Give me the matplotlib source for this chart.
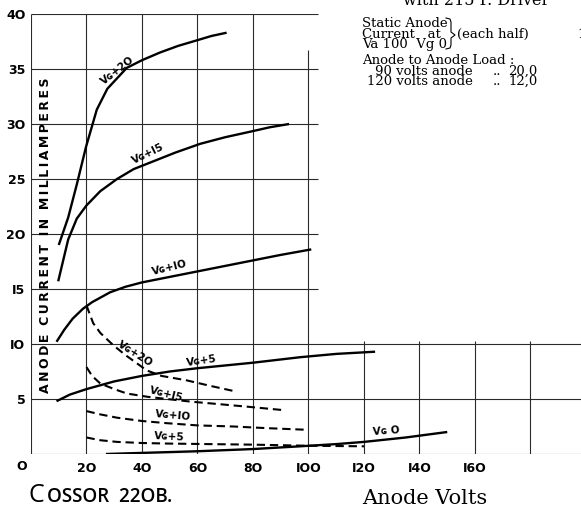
import matplotlib.pyplot as plt
from matplotlib.lines import Line2D

# Solid curves: anode current (mA) vs anode volts, one per grid voltage
vg20_v = [10, 13.4, 16.5, 19.8, 23.7, 27.5, 34.5, 40, 46.5, 53, 59.7, 65, 70.5]
vg20_i = [19.0, 21.5, 24.5, 27.9, 31.3, 33.2, 35.1, 35.8, 36.5, 37.1, 37.6, 38.0, 38.3]
vg15_v = [9.8, 13.4, 16.5, 20, 25, 31, 37, 43, 52, 61, 70, 79, 86, 93]
vg15_i = [15.7, 19.5, 21.4, 22.6, 23.9, 25.0, 25.9, 26.5, 27.4, 28.2, 28.8, 29.3, 29.7, 30.0]
vg10_v = [9.2, 12, 15, 18.7, 22, 28.5, 34, 40, 50, 60, 70, 80, 90, 101]
vg10_i = [10.2, 11.3, 12.3, 13.2, 13.8, 14.7, 15.2, 15.6, 16.1, 16.6, 17.1, 17.6, 18.1, 18.6]
vg5_v = [9.2, 14, 20, 30, 40, 50, 60, 80, 97, 110, 124]
vg5_i = [4.8, 5.4, 5.9, 6.6, 7.1, 7.5, 7.8, 8.3, 8.8, 9.1, 9.3]
vg0_v = [27, 40, 60, 80, 97, 110, 120, 135, 150]
vg0_i = [0.0, 0.1, 0.25, 0.45, 0.7, 0.9, 1.1, 1.5, 2.0]

# Dashed curves
d20_v = [20, 22.4, 25, 29.6, 34, 41.7, 47, 56, 64.5, 73.5]
d20_i = [13.5, 11.9, 11.0, 9.9, 9.0, 7.6, 7.1, 6.7, 6.2, 5.7]
d15_v = [20, 22, 25, 30, 34.5, 42, 49, 58, 67, 78, 90.5]
d15_i = [7.9, 7.1, 6.4, 5.9, 5.5, 5.2, 5.0, 4.75, 4.55, 4.3, 4.0]
d10_v = [20, 25, 31, 40, 49, 60, 73, 85, 99.5]
d10_i = [3.9, 3.6, 3.3, 3.0, 2.8, 2.6, 2.5, 2.35, 2.2]
d5_v = [20, 25, 31, 40, 49, 64, 80, 100, 120]
d5_i = [1.5, 1.25, 1.1, 1.0, 0.95, 0.9, 0.85, 0.75, 0.7]

x_ticks = [20, 40, 60, 80, 100, 120, 140, 160]
x_tick_labels = ["2O", "4O", "6O", "8O", "IOO", "I2O", "I4O", "I6O"]
y_ticks = [5, 10, 15, 20, 25, 30, 35, 40]
y_tick_labels = ["5", "IO", "I5", "2O", "25", "3O", "35", "4O"]

W, H = 581, 507
fig = plt.figure(figsize=(W / 100, H / 100), dpi=100)
ax = fig.add_axes([31 / W, (H - 454) / H, 550 / W, 440 / H])
ax.set_xlim(0, 550 / 2.775)
ax.set_ylim(0, 40)
for s in ax.spines.values():
    s.set_visible(False)

# partial grid, as on the printed sheet
gc = "#2a2a2a"
glw = 0.8
ax.hlines([15, 20, 25, 30, 35, 40], 0, 103.5, color=gc, lw=glw)
ax.hlines([0, 5, 10], 0, 200, color=gc, lw=glw)
ax.vlines([0, 20, 40, 60, 80], 0, 40, color=gc, lw=glw)
ax.vlines([100], 0, 36.7, color=gc, lw=glw)
ax.vlines([120, 140, 160, 180], 0, 10.3, color=gc, lw=glw)

for v, i in [(vg20_v, vg20_i), (vg15_v, vg15_i), (vg10_v, vg10_i),
             (vg5_v, vg5_i), (vg0_v, vg0_i)]:
    ax.plot(v, i, color="black", lw=1.7, solid_capstyle="butt")
for v, i in [(d20_v, d20_i), (d15_v, d15_i), (d10_v, d10_i), (d5_v, d5_i)]:
    ax.plot(v, i, color="black", lw=1.5, linestyle=(0, (4, 2.3)))

sans = "DejaVu Sans"
lab = dict(fontsize=7.5, fontweight="bold", family=sans, ha="center", va="center")
ax.text(31.2, 34.9, "Vɢ+2O", rotation=38, **lab)
ax.text(42.2, 27.3, "Vɢ+I5", rotation=26, **lab)
ax.text(50, 16.9, "Vɢ+IO", rotation=14, **lab)
ax.text(61.6, 8.45, "Vɢ+5", rotation=8, **lab)
ax.text(37.5, 9.1, "Vɢ+2O", rotation=-32, **lab)
ax.text(48.8, 5.45, "Vɢ+I5", rotation=-14, **lab)
ax.text(51.3, 3.5, "Vɢ+IO", rotation=-5, **lab)
ax.text(50, 1.55, "Vɢ+5", rotation=-3, **lab)
ax.text(128, 2.1, "Vɢ O", rotation=4, **lab)

ax.set_xticks(x_ticks, x_tick_labels)
ax.set_yticks(y_ticks, y_tick_labels)
ax.tick_params(length=0, labelsize=9)
ax.tick_params(axis="x", pad=6)
ax.tick_params(axis="y", pad=4)
for t in ax.get_xticklabels() + ax.get_yticklabels():
    t.set_fontweight("bold")
    t.set_family(sans)
ax.text(-3.3, -1.18, "O", fontsize=9, fontweight="bold", family=sans,
        ha="center", va="center")

ylab = "  ".join("\u2009".join(w) for w in ["ANODE", "CURRENT", "IN", "MILLIAMPERES"])
fig.text(46 / W, 1 - 235 / H, ylab, rotation=90, fontsize=9, fontweight="bold",
         family=sans, ha="center", va="center")

# title in small caps
fig.text(28 / W, 1 - 502 / H, "C", fontsize=18, family="Open Sans", va="baseline")
fig.text(47 / W, 1 - 502 / H, "OSSOR  22OB.", fontsize=13.5, family="Open Sans",
         fontweight="semibold", va="baseline")
fig.text(362 / W, 1 - 504 / H, "Anode Volts", fontsize=15, family="DejaVu Serif",
         va="baseline")

# notes in the top right corner
serif = dict(fontsize=9.5, family="DejaVu Serif", va="baseline")
fig.text(403 / W, 1 - 5 / H, "with 215 P. Driver", **dict(serif, fontsize=11.5))
fig.text(362 / W, 1 - 27 / H, "Static Anode", **serif)
fig.text(362 / W, 1 - 37.5 / H, "Current   at", **serif)
fig.text(362 / W, 1 - 48 / H, "Va 100  Vg 0", **serif)
fig.text(457 / W, 1 - 37.5 / H, "(each half)", **serif)
fig.text(577 / W, 1 - 37.5 / H, "1", **serif)
brace_x = [446, 450, 451, 451, 455, 451, 451, 450, 446]
brace_y = [18, 19, 22, 32, 35, 38, 45, 48, 49]
fig.add_artist(Line2D([x / W for x in brace_x], [1 - y / H for y in brace_y],
                      transform=fig.transFigure, color="black", lw=0.8))
fig.text(362 / W, 1 - 64 / H, "Anode to Anode Load :", **serif)
fig.text(473 / W, 1 - 75 / H, "90 volts anode", ha="right", **serif)
fig.text(473 / W, 1 - 85 / H, "120 volts anode", ha="right", **serif)
fig.text(493 / W, 1 - 75 / H, "..", **serif)
fig.text(493 / W, 1 - 85 / H, "..", **serif)
fig.text(508 / W, 1 - 75 / H, "20,0", **serif)
fig.text(508 / W, 1 - 85 / H, "12,0", **serif)

fig.savefig("out.png", dpi=100)
